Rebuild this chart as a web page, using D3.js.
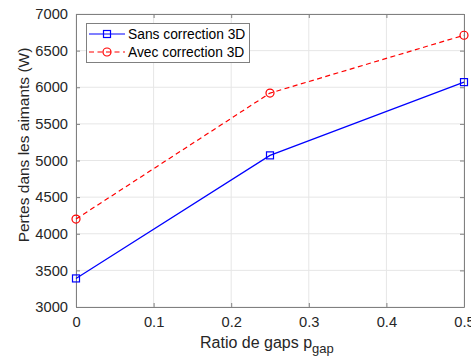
<!DOCTYPE html>
<html><head><meta charset="utf-8">
<script src="https://cdn.jsdelivr.net/npm/d3@7"></script>
<style>body{margin:0;background:#fff;} text{font-family:"Liberation Sans",Arial,sans-serif;}</style>
</head><body><svg id="c" width="471" height="362"></svg>
<script>
const xValues = [0, 0.25, 0.5];
const sansValues = [3390, 5070, 6070];
const avecValues = [4200, 5920, 6710];
const xTicks = [0, 0.1, 0.2, 0.3, 0.4, 0.5];
const yTicks = [3000, 3500, 4000, 4500, 5000, 5500, 6000, 6500, 7000];
const seriesNames = ["Sans correction 3D", "Avec correction 3D"];

const svg = d3.select("#c");
const L = 76, R = 464, T = 14, B = 307;
const x = d3.scaleLinear().domain([0, 0.5]).range([L, R]);
const y = d3.scaleLinear().domain([3000, 7000]).range([B, T]);

// grid
svg.append("g").selectAll("line").data(xTicks).join("line")
  .attr("x1", d => x(d)).attr("x2", d => x(d)).attr("y1", T).attr("y2", B)
  .attr("stroke", "#e6e6e6").attr("stroke-width", 1);
svg.append("g").selectAll("line").data(yTicks).join("line")
  .attr("y1", d => y(d)).attr("y2", d => y(d)).attr("x1", L).attr("x2", R)
  .attr("stroke", "#e6e6e6").attr("stroke-width", 1);

const axCol = "#808080";
const fmtX = d => d === 0 ? "0" : d3.format(".1f")(d);
const gx = svg.append("g").attr("transform", `translate(0,${B})`)
  .call(d3.axisBottom(x).tickValues(xTicks).tickFormat(fmtX).tickSizeInner(-4).tickSizeOuter(0).tickPadding(10));
const gy = svg.append("g").attr("transform", `translate(${L},0)`)
  .call(d3.axisLeft(y).tickValues(yTicks).tickFormat(d3.format("d")).tickSizeInner(-4).tickSizeOuter(0).tickPadding(8));
const gt = svg.append("g").attr("transform", `translate(0,${T})`)
  .call(d3.axisTop(x).tickValues(xTicks).tickFormat("").tickSizeInner(-4).tickSizeOuter(0));
const gr = svg.append("g").attr("transform", `translate(${R},0)`)
  .call(d3.axisRight(y).tickValues(yTicks).tickFormat("").tickSizeInner(-4).tickSizeOuter(0));
[gx, gy, gt, gr].forEach(g => {
  g.selectAll(".domain").attr("stroke", axCol);
  g.selectAll(".tick line").attr("stroke", axCol);
  g.selectAll("text").attr("fill", "#262626").style("font-size", "14.7px");
});

// lines
const line = d3.line().x(d => x(d[0])).y(d => y(d[1]));
const sans = xValues.map((v, i) => [v, sansValues[i]]);
const avec = xValues.map((v, i) => [v, avecValues[i]]);
svg.append("path").datum(avec).attr("d", line).attr("fill", "none")
  .attr("stroke", "#ff0000").attr("stroke-width", 1.2).attr("stroke-dasharray", "5,3.5");
svg.append("path").datum(sans).attr("d", line).attr("fill", "none")
  .attr("stroke", "#0000ff").attr("stroke-width", 1.2);
svg.append("g").selectAll("circle").data(avec).join("circle")
  .attr("cx", d => x(d[0])).attr("cy", d => y(d[1])).attr("r", 4)
  .attr("fill", "none").attr("stroke", "#ff0000").attr("stroke-width", 1.2);
svg.append("g").selectAll("rect").data(sans).join("rect")
  .attr("x", d => x(d[0]) - 3.5).attr("y", d => y(d[1]) - 3.5).attr("width", 7).attr("height", 7)
  .attr("fill", "none").attr("stroke", "#0000ff").attr("stroke-width", 1.2);

// axis labels
svg.append("text").attr("x", 200).attr("y", 348).attr("text-anchor", "start")
  .style("font-size", "16px").attr("fill", "#262626")
  .html('Ratio de gaps p<tspan dy="5" font-size="13px">gap</tspan>');
svg.append("text").attr("transform", `translate(29,145) rotate(-90)`).attr("text-anchor", "middle")
  .style("font-size", "15.5px").attr("fill", "#262626").text("Pertes dans les aimants (W)");

// legend
const lg = svg.append("g");
lg.append("rect").attr("x", 86.5).attr("y", 23.5).attr("width", 163).attr("height", 39)
  .attr("fill", "#fff").attr("stroke", "#808080").attr("stroke-width", 1);
const rows = [
  {name: seriesNames[0], color: "#0000ff", dash: null, mark: "sq", yy: 34},
  {name: seriesNames[1], color: "#ff0000", dash: "5,3.5", mark: "ci", yy: 52}
];
rows.forEach(r => {
  lg.append("line").attr("x1", 89).attr("x2", 125).attr("y1", r.yy).attr("y2", r.yy)
    .attr("stroke", r.color).attr("stroke-width", 1.2).attr("stroke-dasharray", r.dash);
  if (r.mark === "sq") lg.append("rect").attr("x", 107 - 3.5).attr("y", r.yy - 3.5).attr("width", 7).attr("height", 7)
    .attr("fill", "none").attr("stroke", r.color).attr("stroke-width", 1.2);
  else lg.append("circle").attr("cx", 107).attr("cy", r.yy).attr("r", 4)
    .attr("fill", "none").attr("stroke", r.color).attr("stroke-width", 1.2);
  lg.append("text").attr("x", 128).attr("y", r.yy + 5).style("font-size", "13.8px").attr("fill", "#000").text(r.name);
});
</script></body></html>
